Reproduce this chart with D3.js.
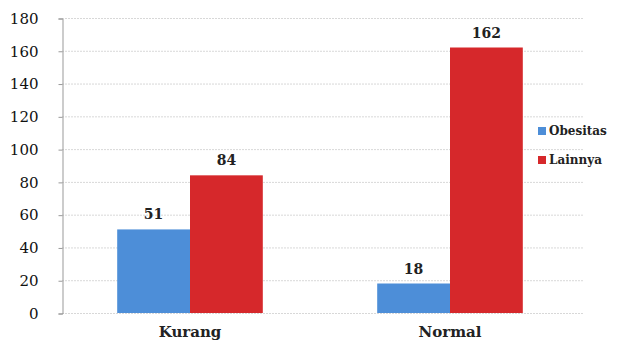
<!DOCTYPE html>
<meta charset="utf-8">
<style>
body { margin: 0; background: #fff; }
.grid line { stroke: #d8d8d8; stroke-width: 1px; stroke-dasharray: 2,1; }
</style>
<svg width="622" height="345"></svg>
<script src="https://d3js.org/d3.v7.min.js"></script>
<script>
var categories = ["Kurang", "Normal"];
var seriesNames = ["Obesitas", "Lainnya"];
var obesitas = [51, 18];
var lainnya = [84, 162];
var yTicks = [0, 20, 40, 60, 80, 100, 120, 140, 160, 180];
var colors = ["#4d8ed8", "#d6282b"];
var serif = "'DejaVu Serif', serif";

var svg = d3.select("svg");
var plotLeft = 62, plotRight = 584, plotTop = 18, plotBottom = 313;

var x0 = d3.scaleBand().domain(categories).range([plotLeft - 2, 580])
    .paddingInner(0.44).paddingOuter(0.22);
var x1 = d3.scaleBand().domain(seriesNames).range([0, x0.bandwidth()]);
var y = d3.scaleLinear().domain([0, 180]).range([plotBottom, plotTop]);

// gridlines
svg.append("g").attr("class", "grid")
  .selectAll("line").data(yTicks).enter().append("line")
    .attr("x1", plotLeft).attr("x2", plotRight)
    .attr("y1", function(d) { return y(d) + 0.5; })
    .attr("y2", function(d) { return y(d) + 0.5; });

// y axis
var yAxis = svg.append("g").attr("transform", "translate(" + (plotLeft + 0.5) + ",0.5)")
  .call(d3.axisLeft(y).tickValues(yTicks).tickSize(4).tickPadding(20));
yAxis.attr("font-family", serif);
yAxis.select(".domain").attr("stroke", "#999");
yAxis.selectAll(".tick line").attr("stroke", "#999");
yAxis.selectAll("text").style("font-family", serif).style("font-size", "15px")
  .attr("fill", "#111");

// x axis
var xAxis = svg.append("g").attr("transform", "translate(0," + (plotBottom + 0.5) + ")")
  .call(d3.axisBottom(x0).tickSize(0).tickPadding(13));
xAxis.attr("font-family", serif);
xAxis.select(".domain").remove();
xAxis.selectAll("text").style("font-family", serif).style("font-size", "15px")
  .style("font-weight", "bold").attr("fill", "#222");

var rows = categories.map(function(c, i) {
  return { cat: c, values: [obesitas[i], lainnya[i]] };
});

var groups = svg.append("g").selectAll("g").data(rows).enter().append("g")
  .attr("transform", function(d) { return "translate(" + x0(d.cat) + ",0)"; });

groups.selectAll("rect").data(function(d) {
    return d.values.map(function(v, j) { return { s: seriesNames[j], v: v, j: j }; });
  }).enter().append("rect")
  .attr("x", function(d) { return x1(d.s); })
  .attr("width", x1.bandwidth())
  .attr("y", function(d) { return y(d.v); })
  .attr("height", function(d) { return plotBottom - y(d.v); })
  .attr("fill", function(d) { return colors[d.j]; });

groups.selectAll("text.val").data(function(d) {
    return d.values.map(function(v, j) { return { s: seriesNames[j], v: v }; });
  }).enter().append("text").attr("class", "val")
  .attr("x", function(d) { return x1(d.s) + x1.bandwidth() / 2; })
  .attr("y", function(d) { return y(d.v) - 10; })
  .attr("text-anchor", "middle")
  .style("font-family", serif).style("font-size", "14px").style("font-weight", "bold")
  .attr("fill", "#222")
  .text(function(d) { return d.v; });

// legend
var legend = svg.append("g").selectAll("g").data(seriesNames).enter().append("g")
  .attr("transform", function(d, i) { return "translate(538," + (131 + i * 29) + ")"; });
legend.append("rect").attr("x", 0).attr("y", -4).attr("width", 8).attr("height", 8)
  .attr("fill", function(d, i) { return colors[i]; });
legend.append("text").attr("x", 11).attr("dy", "0.35em")
  .style("font-family", serif).style("font-size", "12px").style("font-weight", "bold")
  .attr("fill", "#222")
  .text(function(d) { return d; });
</script>
